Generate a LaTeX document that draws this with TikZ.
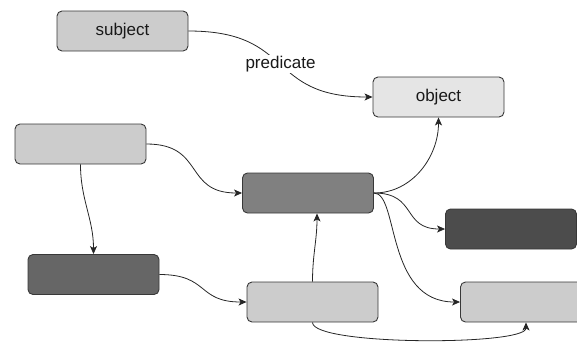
\documentclass[tikz,border=0pt]{standalone}
\usepackage{fontspec}
\setmainfont{Liberation Sans}
\usetikzlibrary{arrows.meta}
\begin{document}
\begin{tikzpicture}[x=1pt, y=1pt,
        box/.style={draw=black!78, line width=0.9pt, rounded corners=5pt, minimum width=131pt, minimum height=40pt, inner sep=0pt, text=black!90, font=\fontsize{17}{20}\selectfont},
        link/.style={draw=black!85, line width=0.8pt, -{Stealth[length=8pt, width=7pt, inset=2pt]}},
        lbl/.style={fill=white, inner sep=1.5pt, text=black!90, font=\fontsize{17}{20}\selectfont}]
        \useasboundingbox (0, 0) rectangle (577, -341);
        \clip (0, 0) rectangle (577, -341);
        \node[box, fill=black!20] (subject) at (122.5, -31) {subject};
        \node[box, fill=black!10] (object) at (438.5, -97) {object};
        \node[box, fill=black!20] (source) at (80.5, -144) {};
        \node[box, fill=black!50] (hub) at (308, -193) {};
        \node[box, fill=black!70] (sinkA) at (511, -229) {};
        \node[box, fill=black!60] (feed) at (93.5, -274.5) {};
        \node[box, fill=black!20] (relay) at (312.5, -302) {};
        \node[box, fill=black!20] (sinkB) at (526, -302) {};
        \draw[link] (subject.east) to[out=0, in=180, looseness=1.4] node[lbl] {predicate} (object.west);
        \draw[link] (source.east) to[out=0, in=180, looseness=1.4] (hub.west);
        \draw[link] (source.south) to[out=-90, in=90] (feed.north);
        \draw[link] (feed.east) to[out=0, in=180, looseness=1.4] (relay.west);
        \draw[link] (relay.north) to[out=90, in=-90] ([xshift=9pt]hub.south);
        \draw[link] (hub.east) to[out=0, in=-90] (object.south);
        \draw[link] (hub.east) to[out=0, in=180, looseness=1.4] (sinkA.west);
        \draw[link] (hub.east) .. controls +(25, 0) and +(-75, 0) .. (sinkB.west);
        \draw[link] (relay.south) to[out=-90, in=-90, looseness=0.28] (sinkB.south);
\end{tikzpicture}
\end{document}
